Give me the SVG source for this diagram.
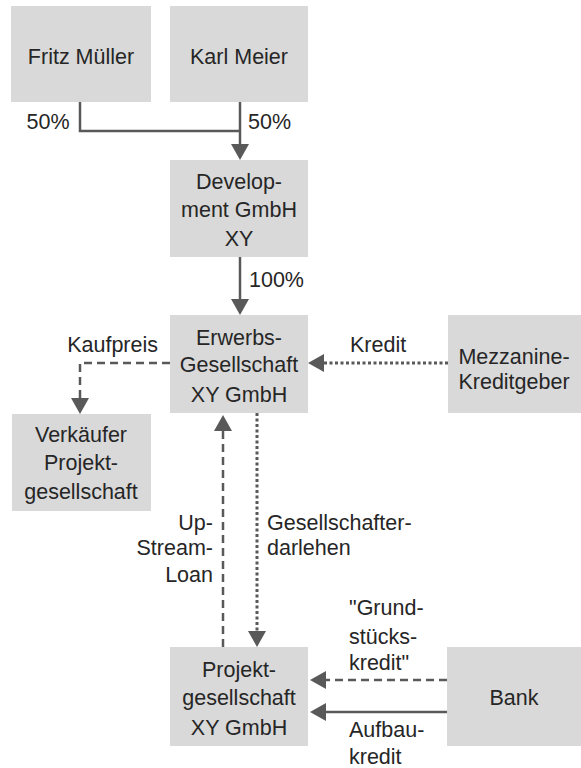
<svg xmlns="http://www.w3.org/2000/svg" width="581" height="768" viewBox="0 0 581 768">
<style>
.box{fill:#d9d9d9}
text{font-family:"Liberation Sans",Arial,sans-serif;font-size:21.5px;fill:#262626}
.c{text-anchor:middle}
.e{text-anchor:end}
.ln{fill:none;stroke:#595959;stroke-width:2.5}
.dash{stroke-dasharray:8 5}
.dot{stroke-width:3;stroke-dasharray:3 2.5}
</style>
<defs>
<marker id="ah" markerUnits="userSpaceOnUse" viewBox="0 0 16 18" refX="6" refY="9" markerWidth="16" markerHeight="18" orient="auto">
<path d="M0,0 L16,9 L0,18 Z" fill="#595959"/>
</marker>
</defs>
<rect width="581" height="768" fill="#ffffff"/>
<g id="connectors">
<path class="ln" d="M80,102 V131 H240"/>
<path class="ln" d="M240,102 V150" marker-end="url(#ah)"/>
<path class="ln" d="M240,257 V305" marker-end="url(#ah)"/>
<path class="ln dash" d="M170,363 H80 V404" marker-end="url(#ah)"/>
<path class="ln dot" d="M448,363 H318" marker-end="url(#ah)"/>
<path class="ln dash" d="M223,647 V425" marker-end="url(#ah)"/>
<path class="ln dot" d="M257,413 V637" marker-end="url(#ah)"/>
<path class="ln dash" d="M447,680 H320" marker-end="url(#ah)"/>
<path class="ln" d="M447,712 H320" marker-end="url(#ah)"/>
</g>
<g id="labels">
<text x="48" y="129" class="c">50%</text>
<text x="248" y="129">50%</text>
<text x="249" y="287">100%</text>
<text x="158" y="352" class="e">Kaufpreis</text>
<text x="350" y="352">Kredit</text>
<text x="213" y="530" class="e">Up-</text>
<text x="213" y="555" class="e">Stream-</text>
<text x="213" y="582" class="e">Loan</text>
<text x="267" y="530">Gesellschafter-</text>
<text x="267" y="555">darlehen</text>
<text x="349" y="615">"Grund-</text>
<text x="349" y="644">stücks-</text>
<text x="349" y="670">kredit"</text>
<text x="349" y="737">Aufbau-</text>
<text x="349" y="764">kredit</text>
</g>
<g id="fritz">
<rect class="box" x="11" y="6" width="140" height="96"/>
<text x="81" y="64" class="c">Fritz Müller</text>
</g>
<g id="karl">
<rect class="box" x="170" y="6" width="138" height="96"/>
<text x="239" y="64" class="c">Karl Meier</text>
</g>
<g id="development">
<rect class="box" x="170" y="160" width="138" height="97"/>
<text x="239" y="189" class="c">Develop-</text>
<text x="239" y="217" class="c">ment GmbH</text>
<text x="239" y="246" class="c">XY</text>
</g>
<g id="erwerbs">
<rect class="box" x="170" y="315" width="138" height="98"/>
<text x="239" y="345" class="c">Erwerbs-</text>
<text x="239" y="372" class="c">Gesellschaft</text>
<text x="239" y="402" class="c">XY GmbH</text>
</g>
<g id="mezzanine">
<rect class="box" x="448" y="315" width="133" height="98"/>
<text x="514" y="364" class="c">Mezzanine-</text>
<text x="514" y="389" class="c">Kreditgeber</text>
</g>
<g id="verkaeufer">
<rect class="box" x="12" y="414" width="139" height="97"/>
<text x="81" y="442" class="c">Verkäufer</text>
<text x="81" y="470" class="c">Projekt-</text>
<text x="81" y="499" class="c">gesellschaft</text>
</g>
<g id="projekt">
<rect class="box" x="170" y="647" width="138" height="99"/>
<text x="239" y="677" class="c">Projekt-</text>
<text x="239" y="705" class="c">gesellschaft</text>
<text x="239" y="735" class="c">XY GmbH</text>
</g>
<g id="bank">
<rect class="box" x="447" y="647" width="134" height="99"/>
<text x="514" y="705" class="c">Bank</text>
</g>
</svg>
